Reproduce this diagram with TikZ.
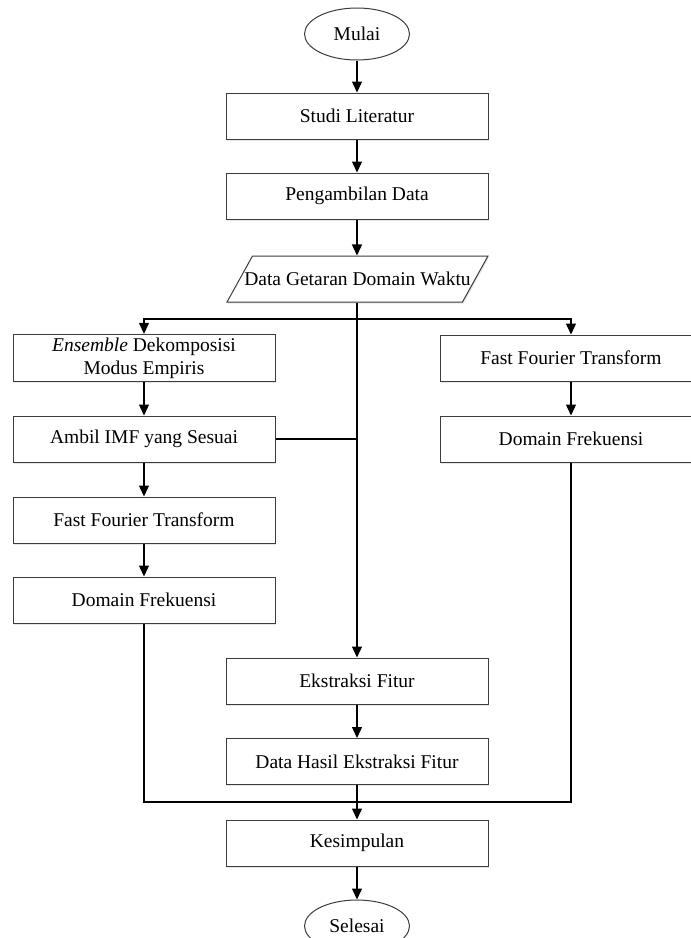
\documentclass[tikz,border=0pt]{standalone}
\usepackage{fontspec}
\setmainfont{Liberation Serif}
\usepackage{tikz}
\usetikzlibrary{arrows.meta,shapes.geometric,shadows}
\definecolor{garisbox}{RGB}{60,60,60}

\begin{document}
\begin{tikzpicture}[x=1pt,y=-1pt,
    teks/.style={font=\fontsize{19.5}{23}\selectfont},
    kotak/.style={teks,draw=garisbox,fill=white,line width=1pt,minimum width=262pt,minimum height=46pt,
      align=center,drop shadow={shadow xshift=1pt,shadow yshift=-1.5pt,opacity=0.2}},
    elips/.style={teks,ellipse,draw=garisbox,fill=white,line width=1pt,minimum width=105pt,
      minimum height=52pt,inner sep=0pt},
    panah/.style={-{Triangle[length=11pt,width=10pt]},line width=1.3pt},
    garis/.style={line width=1.3pt}]
      % page size of the reference
      \useasboundingbox (0,0) rectangle (691,938);
      % main column
      \node[elips] (mulai) at (357,34) {Mulai};
      \node[kotak] (studi) at (357,116) {Studi Literatur};
      \node[kotak] (ambildata) at (357,196) {Pengambilan Data};
      \node[trapezium,draw=garisbox,fill=white,line width=1pt,trapezium left angle=61,
        trapezium right angle=119,trapezium stretches body,minimum width=261pt,inner sep=0pt,
        drop shadow={shadow xshift=1pt,shadow yshift=-1.5pt,opacity=0.2},
        label={[teks]center:Data Getaran Domain Waktu}] (getaran) at (357.5,279) {\rule{0pt}{46pt}};
      \node[kotak] (ekstraksi) at (357,681) {Ekstraksi Fitur};
      \node[kotak] (hasil) at (357,761.5) {Data Hasil Ekstraksi Fitur};
      \node[kotak] (kesimpulan) at (357,843) {Kesimpulan};
      \node[elips] (selesai) at (357,926) {Selesai};
      % left column (EEMD)
      \node[kotak] (eemd) at (144,358) {\textit{Ensemble} Dekomposisi\\Modus Empiris};
      \node[kotak] (imf) at (144,439) {Ambil IMF yang Sesuai};
      \node[kotak] (fftkiri) at (144,520) {Fast Fourier Transform};
      \node[kotak] (domkiri) at (144,600) {Domain Frekuensi};
      % right column (FFT)
      \node[kotak] (fftkanan) at (571,358) {Fast Fourier Transform};
      \node[kotak] (domkanan) at (571,439) {Domain Frekuensi};
      % branch and merge points
      \coordinate (cabang) at (357,319);
      \coordinate (gabung) at (357,802);
      \draw[panah] (mulai) -- (studi);
      \draw[panah] (studi) -- (ambildata);
      \draw[panah] (ambildata) -- (ambildata |- getaran.north);
      \draw[panah] (getaran.south -| cabang) -- (ekstraksi.north);
      \draw[panah] (cabang) -| (eemd.north);
      \draw[panah] (cabang) -| (fftkanan.north);
      \draw[panah] (eemd) -- (imf);
      \draw[panah] (imf) -- (fftkiri);
      \draw[panah] (fftkiri) -- (domkiri);
      \draw[garis] (imf.east) -- (imf.east -| cabang);
      \draw[panah] (fftkanan) -- (domkanan);
      \draw[panah] (ekstraksi) -- (hasil);
      \draw[garis] (domkiri.south) |- (gabung);
      \draw[garis] (domkanan.south) |- (gabung);
      \draw[panah] (hasil) -- (kesimpulan);
      \draw[panah] (kesimpulan) -- (selesai);
\end{tikzpicture}
\end{document}
